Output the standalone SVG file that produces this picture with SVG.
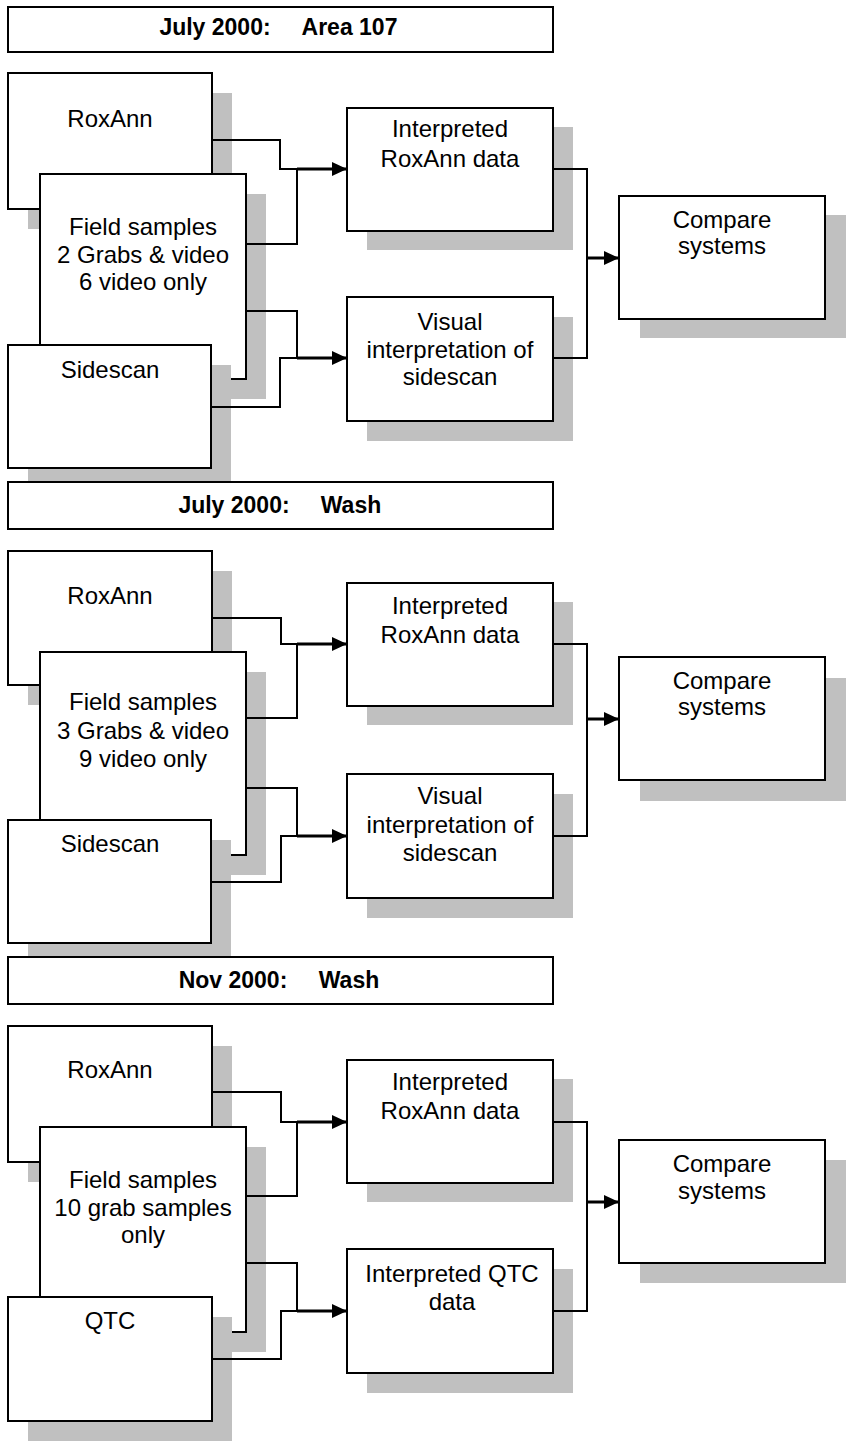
<svg xmlns="http://www.w3.org/2000/svg" width="850" height="1445" viewBox="0 0 850 1445">
<style>
.bg{fill:#ffffff}
.sh{fill:#c0c0c0;stroke:none}
.box{fill:#ffffff;stroke:#000000;stroke-width:2}
.t{font-family:"Liberation Sans",Arial,sans-serif;font-size:24px;fill:#000000;text-anchor:middle}
.h{font-family:"Liberation Sans",Arial,sans-serif;font-size:23px;font-weight:bold;fill:#000000;text-anchor:middle}
.ln{fill:none;stroke:#000000;stroke-width:2}
.ar{fill:none;stroke:#000000;stroke-width:3;marker-end:url(#ah)}
</style>
<defs>
<marker id="ah" markerUnits="userSpaceOnUse" markerWidth="16" markerHeight="14" refX="15" refY="7" orient="auto">
<path d="M0,0 L15,7 L0,14 z" fill="#000000"/>
</marker>
</defs>
<rect class="bg" x="0" y="0" width="850" height="1445"/>

<g id="section1">
<g id="s1-title"><rect class="box" x="8" y="7" width="545" height="45"/><text class="h" x="215" y="35">July 2000:</text><text class="h" x="349.5" y="35">Area 107</text></g>
<g id="s1-roxann"><rect class="sh" x="28" y="93" width="204" height="136"/><rect class="box" x="8" y="73" width="204" height="136"/><text class="t" x="110" y="127">RoxAnn</text></g>
<g id="s1-field"><rect class="sh" x="60" y="194" width="206" height="205"/><rect class="box" x="40" y="174" width="206" height="205"/><text class="t" x="143" y="235">Field samples</text><text class="t" x="143" y="262.5">2 Grabs &amp; video</text><text class="t" x="143" y="290">6 video only</text></g>
<g id="s1-sidescan"><rect class="sh" x="28" y="365" width="203" height="123"/><rect class="box" x="8" y="345" width="203" height="123"/><text class="t" x="110" y="378">Sidescan</text></g>
<g id="s1-interp"><rect class="sh" x="367" y="127" width="206" height="123"/><rect class="box" x="347" y="108" width="206" height="123"/><text class="t" x="450" y="137">Interpreted</text><text class="t" x="450" y="166.5">RoxAnn data</text></g>
<g id="s1-visual"><rect class="sh" x="367" y="317" width="206" height="124"/><rect class="box" x="347" y="297" width="206" height="124"/><text class="t" x="450" y="330">Visual</text><text class="t" x="450" y="358">interpretation of</text><text class="t" x="450" y="385">sidescan</text></g>
<g id="s1-compare"><rect class="sh" x="640" y="215" width="206" height="123"/><rect class="box" x="619" y="196" width="206" height="123"/><text class="t" x="722" y="228">Compare</text><text class="t" x="722" y="254">systems</text></g>
</g>

<g id="section2">
<g id="s2-title"><rect class="box" x="8" y="482" width="545" height="47"/><text class="h" x="234" y="513">July 2000:</text><text class="h" x="351" y="513">Wash</text></g>
<g id="s2-roxann"><rect class="sh" x="28" y="571" width="204" height="134"/><rect class="box" x="8" y="551" width="204" height="134"/><text class="t" x="110" y="604">RoxAnn</text></g>
<g id="s2-field"><rect class="sh" x="60" y="672" width="206" height="203"/><rect class="box" x="40" y="652" width="206" height="203"/><text class="t" x="143" y="710">Field samples</text><text class="t" x="143" y="738.5">3 Grabs &amp; video</text><text class="t" x="143" y="767">9 video only</text></g>
<g id="s2-sidescan"><rect class="sh" x="28" y="840" width="203" height="123"/><rect class="box" x="8" y="820" width="203" height="123"/><text class="t" x="110" y="852">Sidescan</text></g>
<g id="s2-interp"><rect class="sh" x="367" y="602" width="206" height="123"/><rect class="box" x="347" y="583" width="206" height="123"/><text class="t" x="450" y="614">Interpreted</text><text class="t" x="450" y="643">RoxAnn data</text></g>
<g id="s2-visual"><rect class="sh" x="367" y="794" width="206" height="124"/><rect class="box" x="347" y="774" width="206" height="124"/><text class="t" x="450" y="804">Visual</text><text class="t" x="450" y="833">interpretation of</text><text class="t" x="450" y="861">sidescan</text></g>
<g id="s2-compare"><rect class="sh" x="640" y="678" width="206" height="123"/><rect class="box" x="619" y="657" width="206" height="123"/><text class="t" x="722" y="689">Compare</text><text class="t" x="722" y="715">systems</text></g>
</g>

<g id="section3">
<g id="s3-title"><rect class="box" x="8" y="957" width="545" height="47"/><text class="h" x="233" y="988">Nov 2000:</text><text class="h" x="349" y="988">Wash</text></g>
<g id="s3-roxann"><rect class="sh" x="28" y="1046" width="204" height="136"/><rect class="box" x="8" y="1026" width="204" height="136"/><text class="t" x="110" y="1078">RoxAnn</text></g>
<g id="s3-field"><rect class="sh" x="60" y="1147" width="206" height="205"/><rect class="box" x="40" y="1127" width="206" height="205"/><text class="t" x="143" y="1188">Field samples</text><text class="t" x="143" y="1216">10 grab samples</text><text class="t" x="143" y="1243">only</text></g>
<g id="s3-qtc"><rect class="sh" x="28" y="1317" width="204" height="124"/><rect class="box" x="8" y="1297" width="204" height="124"/><text class="t" x="110" y="1329">QTC</text></g>
<g id="s3-interp"><rect class="sh" x="367" y="1079" width="206" height="123"/><rect class="box" x="347" y="1060" width="206" height="123"/><text class="t" x="450" y="1090">Interpreted</text><text class="t" x="450" y="1118.5">RoxAnn data</text></g>
<g id="s3-interpqtc"><rect class="sh" x="367" y="1269" width="206" height="124"/><rect class="box" x="347" y="1249" width="206" height="124"/><text class="t" x="452" y="1282">Interpreted QTC</text><text class="t" x="452" y="1310">data</text></g>
<g id="s3-compare"><rect class="sh" x="640" y="1160" width="206" height="123"/><rect class="box" x="619" y="1140" width="206" height="123"/><text class="t" x="722" y="1172">Compare</text><text class="t" x="722" y="1199">systems</text></g>
</g>

<g id="connectors">
<path class="ln" d="M212,140 H280 V169 H297"/>
<path class="ln" d="M246,244 H297 V169"/>
<path class="ar" d="M297,169 H347"/>
<path class="ln" d="M246,311 H297 V358"/>
<path class="ln" d="M211,407 H280 V358 H297"/>
<path class="ar" d="M297,358 H347"/>
<path class="ln" d="M553,169 H587 V358 H553"/>
<path class="ar" d="M587,258 H619"/>

<path class="ln" d="M212,618 H281 V644 H297"/>
<path class="ln" d="M246,718 H297 V644"/>
<path class="ar" d="M297,644 H347"/>
<path class="ln" d="M246,788 H297 V836"/>
<path class="ln" d="M211,882 H281 V836 H297"/>
<path class="ar" d="M297,836 H347"/>
<path class="ln" d="M553,644 H587 V836 H553"/>
<path class="ar" d="M587,719 H619"/>

<path class="ln" d="M212,1092 H281 V1122 H297"/>
<path class="ln" d="M246,1196 H297 V1122"/>
<path class="ar" d="M297,1122 H347"/>
<path class="ln" d="M246,1263 H297 V1311"/>
<path class="ln" d="M212,1359 H281 V1311 H297"/>
<path class="ar" d="M297,1311 H347"/>
<path class="ln" d="M553,1122 H587 V1311 H553"/>
<path class="ar" d="M587,1202 H619"/>
</g>
</svg>
